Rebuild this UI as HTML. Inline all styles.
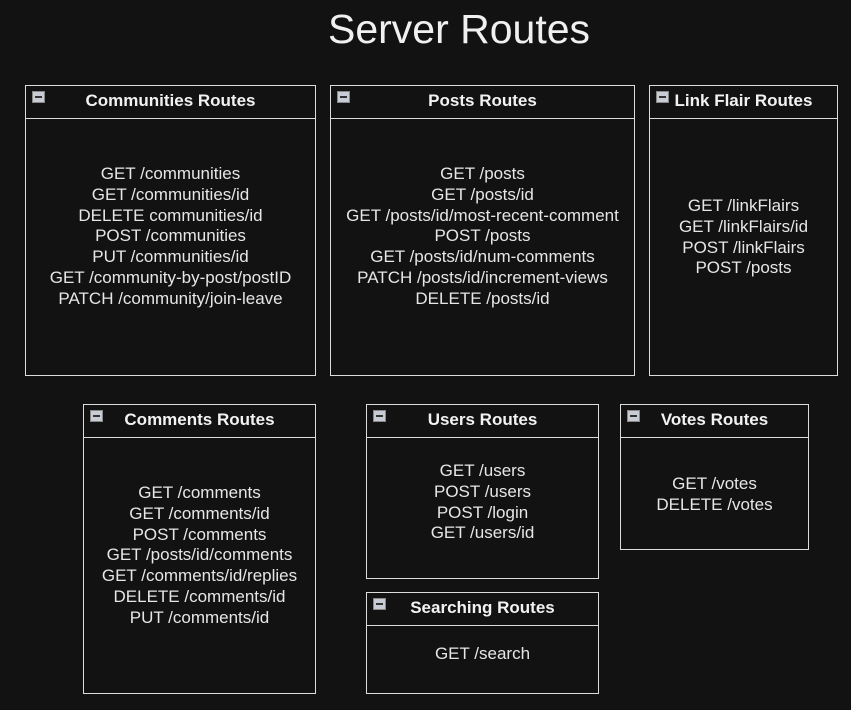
<!DOCTYPE html>
<html><head><meta charset="utf-8"><style>
body{margin:0;width:851px;height:710px;background:#121212;overflow:hidden;position:relative;font-family:"Liberation Sans",Arial,sans-serif;color:#e6e6e6}
.t{position:absolute;left:0;width:918px;top:6px;text-align:center;font-size:41px;color:#f0f0f0}
.b{position:absolute;border:1px solid #dcdcdc;box-sizing:border-box}
.h{position:absolute;left:0;right:0;top:0;height:32px;border-bottom:1px solid #dcdcdc;text-align:center;line-height:29px;font-weight:bold;font-size:17px;color:#f2f2f2}
.m{position:absolute;left:6px;top:5px;width:13px;height:12px;background:#c8ccd4;border:1px solid #888;box-sizing:border-box}
.m:after{content:"";position:absolute;left:2px;right:2px;top:4px;height:2px;background:#333}
.c{position:absolute;left:0;right:0;text-align:center;font-size:17px;line-height:20.8px}
</style></head><body>
<div class="t">Server Routes</div>

<div class="b" style="left:25px;top:85px;width:291px;height:291px"><div class="h"><span class="m"></span>Communities Routes</div>
<div class="c" style="top:78px">GET /communities<br>GET /communities/id<br>DELETE communities/id<br>POST /communities<br>PUT /communities/id<br>GET /community-by-post/postID<br>PATCH /community/join-leave</div></div>

<div class="b" style="left:330px;top:85px;width:305px;height:291px"><div class="h"><span class="m"></span>Posts Routes</div>
<div class="c" style="top:78px">GET /posts<br>GET /posts/id<br>GET /posts/id/most-recent-comment<br>POST /posts<br>GET /posts/id/num-comments<br>PATCH /posts/id/increment-views<br>DELETE /posts/id</div></div>

<div class="b" style="left:649px;top:85px;width:189px;height:291px"><div class="h"><span class="m"></span>Link Flair Routes</div>
<div class="c" style="top:110px">GET /linkFlairs<br>GET /linkFlairs/id<br>POST /linkFlairs<br>POST /posts</div></div>

<div class="b" style="left:83px;top:404px;width:233px;height:290px"><div class="h"><span class="m"></span>Comments Routes</div>
<div class="c" style="top:78px">GET /comments<br>GET /comments/id<br>POST /comments<br>GET /posts/id/comments<br>GET /comments/id/replies<br>DELETE /comments/id<br>PUT /comments/id</div></div>

<div class="b" style="left:366px;top:404px;width:233px;height:175px"><div class="h"><span class="m"></span>Users Routes</div>
<div class="c" style="top:56px">GET /users<br>POST /users<br>POST /login<br>GET /users/id</div></div>

<div class="b" style="left:620px;top:404px;width:189px;height:146px"><div class="h"><span class="m"></span>Votes Routes</div>
<div class="c" style="top:69px">GET /votes<br>DELETE /votes</div></div>

<div class="b" style="left:366px;top:592px;width:233px;height:102px"><div class="h"><span class="m"></span>Searching Routes</div>
<div class="c" style="top:51px">GET /search</div></div>
</body></html>
